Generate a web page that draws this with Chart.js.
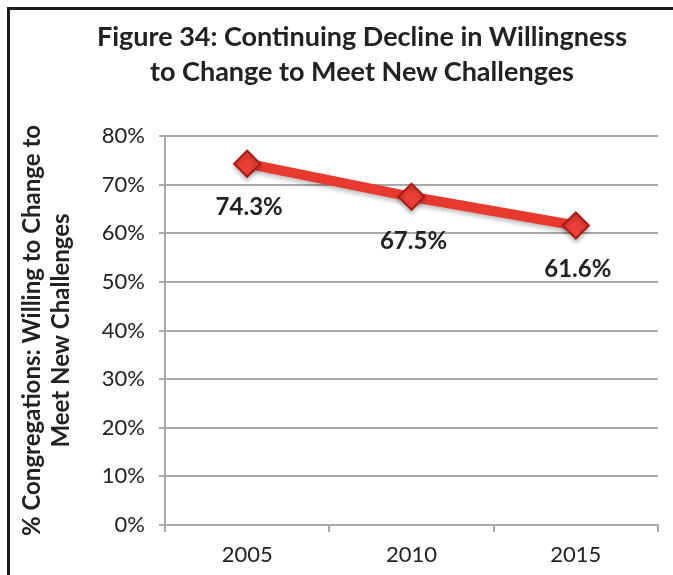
<!DOCTYPE html>
<html>
<head>
<meta charset="utf-8">
<script src="https://cdn.jsdelivr.net/npm/chart.js@4/dist/chart.umd.min.js"></script>
<style>
  html, body { margin: 0; padding: 0; background: #fff; }
  body { width: 673px; height: 575px; overflow: hidden; position: relative; font-family: Lato, "Open Sans", sans-serif; }
  #frame {
    position: absolute; left: 7px; top: 7px; width: 700px; height: 600px;
    border-left: 3px solid #1c1c1c; border-top: 3px solid #1c1c1c;
    pointer-events: none;
  }
  #title {
    position: absolute; left: 62px; top: 18px; width: 600px;
    text-align: center; font-weight: bold; font-size: 27px; line-height: 35px; color: #222;
  }
  #willingnessChart { position: absolute; left: 0; top: 0; }
</style>
</head>
<body>
<canvas id="willingnessChart" width="673" height="575"></canvas>
<div id="title">Figure 34: Continuing Decline in Willingness<br>to Change to Meet New Challenges</div>
<div id="frame"></div>
<script>
// Dados da série
const years = ["2005", "2010", "2015"];
const willingPct = [74.3, 67.5, 61.6];
const yTitleLines = ["% Congregations: Willing to Change to", "Meet New Challenges"];

const RED = "#e8392f";
const RED_DARK = "#a81b14";
const GRID = "#a9a9a9";

/**
 * Escreve o valor de cada ponto logo abaixo do marcador.
 */
const pointValueLabels = {
  id: "pointValueLabels",
  afterDatasetsDraw(chart) {
    const ctx = chart.ctx;
    const meta = chart.getDatasetMeta(0);
    ctx.save();
    ctx.font = "bold 24px Lato, sans-serif";
    ctx.fillStyle = "#222";
    ctx.textAlign = "center";
    ctx.textBaseline = "middle";
    meta.data.forEach((pt, i) => {
      ctx.fillText(willingPct[i].toFixed(1) + "%", pt.x + 2, pt.y + 44);
    });
    ctx.restore();
  },
};

// Sombra leve sob a linha e os marcadores
const softShadow = {
  id: "softShadow",
  beforeDatasetDraw(chart) {
    const ctx = chart.ctx;
    ctx.save();
    ctx.shadowColor = "rgba(0,0,0,0.25)";
    ctx.shadowBlur = 4;
    ctx.shadowOffsetY = 3;
  },
  afterDatasetDraw(chart) {
    chart.ctx.restore();
  },
};

new Chart(document.getElementById("willingnessChart"), {
  type: "line",
  data: {
    labels: years,
    datasets: [
      {
        data: willingPct,
        borderColor: RED,
        borderWidth: 10,
        tension: 0,
        pointStyle: "rectRot",
        pointRadius: 13,
        pointHoverRadius: 13,
        pointBackgroundColor: "#ec3f37",
        pointBorderColor: RED_DARK,
        pointBorderWidth: 2,
      },
    ],
  },
  options: {
    responsive: false,
    animation: false,
    devicePixelRatio: 1,
    layout: { padding: { top: 136, left: 10, right: 12, bottom: 0 } },
    plugins: {
      legend: { display: false },
      tooltip: { enabled: false },
    },
    scales: {
      x: {
        offset: true,
        grid: { offset: true, drawOnChartArea: false, drawTicks: true, tickLength: 7, color: GRID, lineWidth: 2 },
        border: { color: GRID, width: 2 },
        ticks: { color: "#222", font: { family: "Lato", size: 22 }, padding: 10 },
        afterFit: (scale) => { scale.height = 50; },
      },
      y: {
        min: 0,
        max: 80,
        ticks: {
          stepSize: 10,
          color: "#222",
          font: { family: "Lato", size: 22 },
          padding: 14,
          callback: (v) => v + "%",
        },
        grid: { color: GRID, lineWidth: 2, tickLength: 6 },
        border: { color: GRID, width: 2 },
        title: {
          display: true,
          text: yTitleLines,
          color: "#222",
          font: { family: "Lato", size: 24, weight: "bold", lineHeight: 1.2 },
          padding: { top: 8, bottom: 0 },
        },
        afterFit: (scale) => { scale.width = 155; },
      },
    },
  },
  plugins: [softShadow, pointValueLabels],
});
</script>
</body>
</html>
